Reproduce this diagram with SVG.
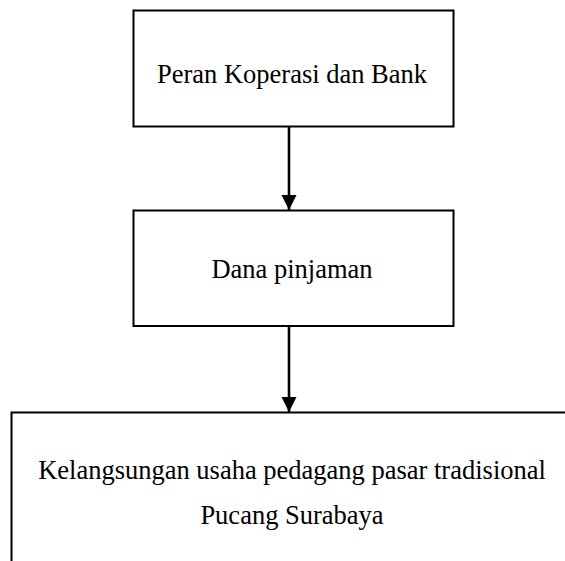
<svg xmlns="http://www.w3.org/2000/svg" width="565" height="561" viewBox="0 0 565 561">
<style>
.box{fill:#fff;stroke:#000;stroke-width:2}
.lbl{font-family:"Liberation Serif","Times New Roman",serif;font-size:26.5px;fill:#000;text-anchor:middle}
.edge{stroke:#000;stroke-width:2.6;fill:none}
</style>
<defs>
<marker id="ah" markerUnits="userSpaceOnUse" markerWidth="16" markerHeight="16" refX="15" refY="7.5" orient="auto">
<path d="M0,0 L15,7.5 L0,15 Z" fill="#000"/>
</marker>
</defs>
<rect width="565" height="561" fill="#fff"/>
<g id="node1">
<rect class="box" x="133.5" y="10.5" width="320" height="116"/>
<text class="lbl" x="292" y="83">Peran Koperasi dan Bank</text>
</g>
<g id="node2">
<rect class="box" x="133.5" y="210.5" width="320" height="115.5"/>
<text class="lbl" x="292" y="278">Dana pinjaman</text>
</g>
<g id="node3">
<rect class="box" x="11.5" y="412.5" width="570" height="170"/>
<text class="lbl" x="292" y="479">Kelangsungan usaha pedagang pasar tradisional</text>
<text class="lbl" x="292" y="524">Pucang Surabaya</text>
</g>
<g id="connectors">
<line class="edge" x1="289" y1="127" x2="289" y2="210" marker-end="url(#ah)"/>
<line class="edge" x1="289" y1="326" x2="289" y2="412" marker-end="url(#ah)"/>
</g>
</svg>
